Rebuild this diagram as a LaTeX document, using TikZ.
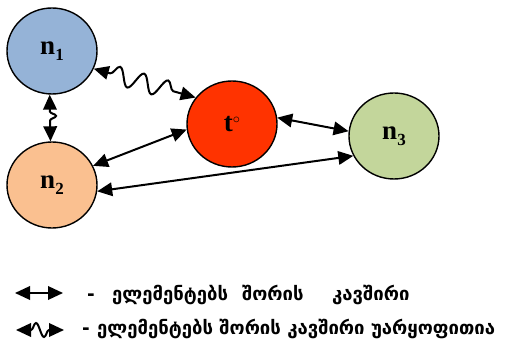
\documentclass[tikz,border=0pt]{standalone}
\usepackage{fontspec}
\setmainfont{Liberation Serif}
\newfontfamily\geo[Script=Georgian]{DejaVu Sans}
\usetikzlibrary{shapes.geometric,arrows.meta,decorations.pathmorphing}
\definecolor{cnone}{HTML}{95B3D7}
\definecolor{cntwo}{HTML}{FAC090}
\definecolor{cnthree}{HTML}{C3D69B}
\definecolor{ctemp}{HTML}{FF3300}
\newcommand{\lab}[2]{{\bfseries #1}\raisebox{-0.22em}{\fontsize{17}{17}\selectfont\bfseries #2}}
\tikzset{
  elem/.style={ellipse, draw=black, line width=1.4pt, minimum width=90pt, minimum height=86pt, inner sep=0pt,
    font=\fontsize{27}{27}\selectfont\bfseries},
  link/.style={line width=2pt, {Triangle[length=15pt,width=13.5pt]}-{Triangle[length=15pt,width=13.5pt]}},
  wave/.style 2 args={link, decorate, decoration={snake, segment length=#1, amplitude=#2, pre length=17pt, post length=17pt}},
  legtext/.style={font=\geo\bfseries\fontsize{18.5}{18.5}\selectfont, inner sep=0pt, anchor=base west},
}
\begin{document}
\begin{tikzpicture}[x=1pt,y=-1pt]
\useasboundingbox (0,0) rectangle (505,344);
\node[elem, fill=cnone] (n1) at (52,51) {\lab{n}{1}};
\node[elem, fill=cntwo] (n2) at (52,185) {\lab{n}{2}};
\node[elem, fill=ctemp] (t) at (232,124) {t\raisebox{0.3em}{\fontsize{14}{14}\selectfont$\circ$}};
\node[elem, fill=cnthree] (n3) at (394,136) {\lab{n}{3}};

\draw[wave={25pt}{9pt}] (n1.-23) -- (t.144);
\draw[wave={14pt}{6pt}] (n1.-93) -- (n2.92);
\draw[link] (t.187) -- (n2.25);
\draw[link] (t.8) -- (n3.174);
\draw[link] (n2.-8) -- (n3.206);

% legend
\coordinate (a1) at (15,293);
\coordinate (a2) at (63,293);
\draw[link] (a1) -- (a2);
\node[legtext] (d1) at (87,300) {-};
\node[legtext] (w1) at (112,300) {ელემენტებს};
\node[legtext] (w2) at (242,300) {შორის};
\node[legtext] (w3) at (332,300) {კავშირი};

\coordinate (b1) at (16,330);
\coordinate (b2) at (64,330);
\draw[link, decorate, decoration={snake, segment length=16pt, amplitude=7pt, pre length=15pt, post length=15pt}] (b1) -- (b2);
\node[legtext] (d2) at (82,334) {-};
\node[legtext] (w4) at (97,334) {ელემენტებს შორის კავშირი უარყოფითია};
\end{tikzpicture}
\end{document}
